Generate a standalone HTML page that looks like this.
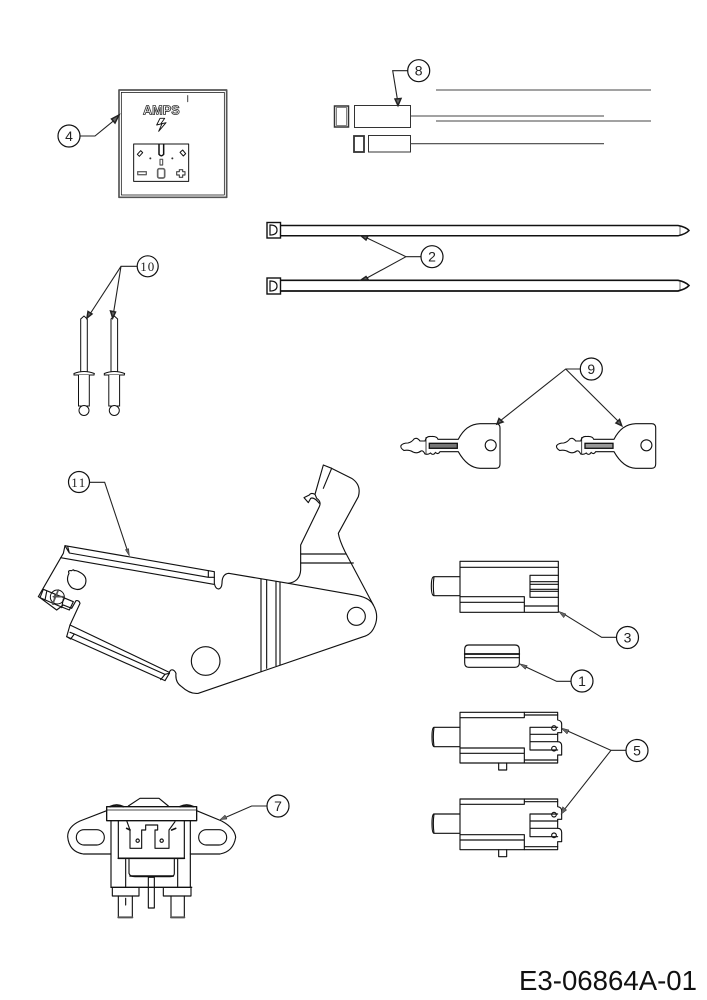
<!DOCTYPE html>
<html><head><meta charset="utf-8"><style>
html,body{margin:0;padding:0;background:#fff}
svg{display:block}
text{font-family:"Liberation Sans",sans-serif;fill:#222}
.z{fill:none;stroke:#111;stroke-width:3.4;stroke-linejoin:round;stroke-linecap:round}
.h{fill:#666;stroke:#222;stroke-width:1.5}
.l{fill:none;stroke:#222;stroke-width:1.1}
.c{fill:#fff;stroke:#111;stroke-width:1.2}
.lb{font-size:14px;text-anchor:middle}
</style></head><body>
<svg width="707" height="1000" viewBox="0 0 707 1000" xmlns="http://www.w3.org/2000/svg">
<rect width="707" height="1000" fill="#fff"/>

<!-- 4 -->
<g transform="translate(40,60) scale(.33333)">
<rect class="z" x="237" y="90" width="323" height="322" style="stroke-width:5;stroke:#555"/>
<rect class="z" x="244" y="97" width="309" height="308" style="stroke-width:2.2"/>
<path class="z" d="M443 107V125" style="stroke:#555"/>
<text x="364" y="163" style="font-size:38px;font-weight:bold;text-anchor:middle;fill:#fff;stroke:#333;stroke-width:2.5" textLength="110">AMPS</text>
<path class="z" d="M360 175L350 195L366 191L356 214L378 188L362 192L374 175Z" style="stroke-width:2.8"/>
<rect class="z" x="281" y="252" width="165" height="112" style="stroke-width:3"/>
<path class="z" d="M357 254V283Q364 292 371 283V254" style="stroke-width:4.500"/>
<rect class="z" x="360" y="298" width="8" height="17" style="stroke:#555"/>
<path class="z" d="M292 283L302 272L308 278L298 289Z M420 277L428 270L437 281L430 288Z" style="stroke-width:3"/>
<circle cx="331" cy="295" r="3" fill="#333"/><circle cx="397" cy="295" r="3" fill="#333"/>
<rect class="z" x="293" y="335" width="26" height="9" style="stroke:#666;stroke-width:4"/>
<rect class="z" x="353" y="326" width="21" height="28" rx="5" style="stroke:#666;stroke-width:5"/>
<path class="z" d="M418 329h10v6h7v10h-7v7h-10v-7h-8v-10h8z" style="stroke-width:3.400;stroke:#444"/>
</g>
<path class="l" d="M80 136H95L117 118"/><path class="h" d="M119 115L111.500 119L115 123Z"/>
<circle class="c" cx="69" cy="136" r="11"/><text class="lb" x="69" y="141">4</text>

<!-- 8 -->
<g fill="#fff" stroke="#333">
<rect x="334.500" y="106" width="14" height="21" stroke-width="1.500"/>
<rect x="336.500" y="107.500" width="10" height="18" stroke-width=".6"/>
<rect x="354.500" y="105.500" width="56" height="22" stroke-width="1"/>
<rect x="354" y="136" width="10" height="16" stroke-width="1.800"/>
<rect x="368.500" y="135.500" width="42" height="16.500" stroke-width="1"/>
</g>
<path d="M436 90H651M410.500 116H604M436 121H651M410.500 143.700H604" stroke="#444" stroke-width="1.100" fill="none"/>
<path class="l" d="M408 70.700H392.700L397.500 100"/><path class="h" d="M398 105.500L395 99L401 98.500Z"/>
<circle class="c" cx="418.700" cy="70.700" r="11"/><text class="lb" x="418.700" y="75.500">8</text>

<!-- 2 straps -->
<g fill="none" stroke="#111">
<rect x="267" y="222.500" width="13.500" height="15.500" stroke-width="1.400"/>
<path d="M270 225V235Q277 235 277 230Q277 225 270 225Z" stroke-width="1.200"/>
<path d="M280.500 225.500H678Q686 227 689 230.500Q686 234 678 235.800H280.500" stroke-width="1.500"/>
<path d="M680 226V235.500" stroke-width=".6"/>
<rect x="267" y="278" width="13.500" height="16" stroke-width="1.400"/>
<path d="M270 281V291Q277 291 277 286Q277 281 270 281Z" stroke-width="1.200"/>
<path d="M280.500 280.300H678Q686 282 689 285.500Q686 289 678 291H280.500" stroke-width="1.700"/>
<path d="M680 281V290.500" stroke-width=".6"/>
</g>
<path class="l" d="M421 256.700H406L366 237.500M406 256.700L366 278.500"/>
<path class="h" d="M361 235.800L368 236L366 240Z"/><path class="h" d="M361 280L366 276.500L368.500 280Z"/>
<circle class="c" cx="432" cy="256.700" r="11"/><text class="lb" x="432" y="261.500">2</text>

<!-- 10 rivets -->
<g fill="#fff" stroke="#111" stroke-width="1">
<g>
<path d="M80.700 372V319L84 316L87.300 319V372"/>
<path d="M74 373.500Q84 369.500 94.300 373.500L94 375H74Z"/>
<path d="M78.500 375V406H89.300V375"/>
<circle cx="84" cy="410.500" r="5"/>
</g>
<g transform="translate(30.300,0)">
<path d="M80.700 372V319L84 316L87.300 319V372"/>
<path d="M74 373.500Q84 369.500 94.300 373.500L94 375H74Z"/>
<path d="M78.500 375V406H89.300V375"/>
<circle cx="84" cy="410.500" r="5"/>
</g>
</g>
<path class="l" d="M137 266.300H121L90 314M121 266.300L113.500 313"/>
<path class="h" d="M87 318L88 311.500L92 314Z"/><path class="h" d="M112.700 318L110.500 311L115.500 312Z"/>
<circle class="c" cx="147.700" cy="266.300" r="10.500"/>
<text x="147.700" y="271" style="font-family:'Liberation Serif',serif;font-size:13px;text-anchor:middle" letter-spacing="1">10</text>

<!-- 9 keys -->
<g fill="#fff" stroke="#111" stroke-width="1.100">
<g>
<path d="M458.300 439.300C463 430 470 424 480 423.700H496Q500 423.700 500 428V464Q500 468.300 496 468.300H480C470 468 463 460 458.300 451.700H440Q438 455 435.500 452.500Q433 456 430.500 453Q428 455 425 454Q423 450 421 451Q417 454 413 452Q409 449.500 404 450.500Q400 448 401 445.500Q403 443 408 443Q412 442 414 439Q417 437 420 441H425Q426 436 431 436.500Q437 436 438 439.300Z"/>
<path d="M426 437V454" stroke-width=".8"/>
<rect x="429.300" y="443.300" width="28" height="5" fill="#777" stroke-width="1.300"/>
<circle cx="490.700" cy="445.300" r="5.500"/>
</g>
<g transform="translate(155.700,0)">
<path d="M458.300 439.300C463 430 470 424 480 423.700H496Q500 423.700 500 428V464Q500 468.300 496 468.300H480C470 468 463 460 458.300 451.700H440Q438 455 435.500 452.500Q433 456 430.500 453Q428 455 425 454Q423 450 421 451Q417 454 413 452Q409 449.500 404 450.500Q400 448 401 445.500Q403 443 408 443Q412 442 414 439Q417 437 420 441H425Q426 436 431 436.500Q437 436 438 439.300Z"/>
<path d="M426 437V454" stroke-width=".8"/>
<rect x="429.300" y="443.300" width="28" height="5" fill="#999" stroke-width="1.300"/>
<circle cx="490.700" cy="445.300" r="5.500"/>
</g>
</g>
<path class="l" d="M580 369H565.700L500 421M565.700 369L619 422"/>
<path class="h" d="M497 424L499 418.500L503 422Z"/><path class="h" d="M621.700 425.700L616 423L619.500 419.500Z"/>
<circle class="c" cx="591.300" cy="369" r="11"/><text class="lb" x="591.300" y="374">9</text>

<!-- 11 bracket -->
<g transform="translate(30,455) scale(.33333)">
<path class="z" d="M105 272L553 350V385Q556 402 566 402Q575 400 576 385Q576 357 596 355L775 385L985 422Q1020 430 1030 450Q1050 485 1030 522Q1020 540 1000 545L505 715Q480 718 455 695Q435 682 438 655Q432 642 423 645Q417 650 418 655L405 677L110 545L120 510L150 445Q147 435 138 437L125 460L100 450L80 465L30 428L25 425L100 295Z"/>
<path class="z" d="M775 385Q810 380 812 345V270L868 155Q875 140 860 130L855 118L880 30L905 40L965 70Q995 90 985 125L925 235Q928 255 945 290Q985 365 1030 450"/>
<path class="z" d="M855 118Q843 112 838 120L822 128L835 143L842 130Q852 125 868 145"/>
<path class="z" d="M905 40L880 100"/>
<path class="z" d="M812 297H947M812 324H970"/>
<path class="z" d="M693 372V650M710 375V640M738 380V632M750 382V630"/>
<path class="z" d="M118 294L535 367M92 308L551 388M105 272L118 294L113 274M535 347V367H553"/>
<path class="z" d="M120 510L418 652M120 532L133 537L122 552L110 545M133 537L405 658L392 674M405 658L418 655"/>
<path class="z" d="M125 347Q112 345 117 355Q105 378 125 398Q150 412 165 390Q175 365 150 352Q138 345 132 347Q132 342 125 347Z"/>
<circle class="z" cx="979" cy="484" r="27"/>
<circle class="z" cx="527" cy="618" r="43"/>
<path class="z" d="M30 428L40 403L130 440L118 465L80 450L30 428Z"/>
<path class="z" d="M50 410L45 435M75 420L70 448M100 432L95 458"/>
<circle class="z" cx="82" cy="426" r="21" style="stroke-width:3"/>
<path class="z" d="M85 405L68 447M100 425H70" style="stroke:#555;stroke-width:5"/>
<path class="l" style="stroke-width:3.200" d="M178 82H224L295 295"/>
<path class="h" d="M298 303L286 284L296 281Z"/>
</g>
<circle class="c" cx="79" cy="482" r="10.500"/>
<text x="79" y="487" style="font-family:'Liberation Serif',serif;font-size:13px;text-anchor:middle" letter-spacing="1.500">11</text>

<!-- 3 -->
<g transform="translate(420,550) scale(.33333)">
<path class="z" d="M120 34H415V187H120Z M120 52H415M120 140H313V187M120 157H313M313 168H415"/>
<path class="z" d="M330 76H415M330 76V142H415M330 95H415M330 103H415M330 118H415M330 124H415"/>
<path class="z" d="M120 80H42Q34 80 34 108Q34 137 42 137H120M42 80Q38 108 42 137"/>
<path class="l" style="stroke-width:3.200" d="M590 262H545L425 188"/>
<path class="h" d="M416 184L438 192L431 203Z"/>
<!-- 1 -->
<path class="z" d="M146 285H285Q298 285 298 298V338Q298 352 285 352H146Q134 352 134 338V298Q134 285 146 285Z"/>
<path class="z" d="M134 312H298" style="stroke-width:5"/>
<path class="z" d="M134 323H298"/>
<path class="l" style="stroke-width:3.200" d="M455 394H410L305 345"/>
<path class="h" d="M298 341L322 347L316 358Z"/>
</g>
<circle class="c" cx="627.500" cy="637.500" r="11"/><text class="lb" x="627.500" y="642.500">3</text>
<circle class="c" cx="582" cy="681" r="11"/><text class="lb" x="582" y="686">1</text>

<!-- 5 -->
<g transform="translate(420,700) scale(.33333)">
<g>
<path class="z" d="M120 37H413V60Q425 62 425 72V98H413V125Q425 125 425 138V165H413V189H120Z"/>
<path class="z" d="M120 53H313V37M313 45H413M120 144H313V189M120 160H313M313 180H413"/>
<path class="z" d="M413 82H330V150H413M330 103H413M330 125H413"/>
<circle class="z" cx="402" cy="84" r="7"/><circle class="z" cx="402" cy="146" r="7"/>
<path class="z" d="M120 82H42Q36 82 36 110Q36 140 42 140H120M42 82Q38 110 42 140"/>
<path class="z" d="M236 189V210H260V189"/>
</g>
<g transform="translate(0,260)">
<path class="z" d="M120 37H413V60Q425 62 425 72V98H413V125Q425 125 425 138V165H413V189H120Z"/>
<path class="z" d="M120 53H313V37M313 45H413M120 144H313V189M120 160H313M313 180H413"/>
<path class="z" d="M413 82H330V150H413M330 103H413M330 125H413"/>
<circle class="z" cx="402" cy="84" r="7"/><circle class="z" cx="402" cy="146" r="7"/>
<path class="z" d="M120 82H42Q36 82 36 110Q36 140 42 140H120M42 82Q38 110 42 140"/>
<path class="z" d="M236 189V210H260V189"/>
</g>
<path class="l" style="stroke-width:3.200" d="M620 151H573L432 88M573 151L428 335"/>
<path class="h" d="M423 84L447 90L441 102Z"/><path class="h" d="M423 343L428 320L440 330Z"/>
</g>
<circle class="c" cx="637" cy="750.500" r="11"/><text class="lb" x="637" y="755.500">5</text>

<!-- 7 -->
<g transform="translate(55,780) scale(.33333)">
<path class="z" d="M155 92L75 123Q38 140 38 170Q42 215 85 222H168M425 92L500 123Q540 145 542 172Q535 215 495 222H406"/>
<rect class="z" x="64" y="149" width="84" height="46" rx="23"/>
<rect class="z" x="431" y="149" width="84" height="46" rx="23"/>
<path class="z" d="M220 78L255 55H312L340 78"/>
<rect class="z" x="155" y="80" width="270" height="42" style="stroke-width:4"/>
<path class="z" d="M155 90H425" style="stroke-width:2.500"/>
<path class="z" d="M165 80Q185 70 205 80M375 80Q395 70 415 80" style="stroke-width:5"/>
<path class="z" d="M168 122V322M190 122V235H388V122M406 122V322" style="stroke-width:3.500"/>
<path class="z" d="M190 235H388" style="stroke-width:5"/>
<path class="z" d="M215 122L225 150V205H260V150H272V135H308V150H300V205H342V150L360 125"/>
<path class="z" d="M215 145L225 150M350 150L362 145" style="stroke-width:5"/>
<circle class="z" cx="248" cy="182" r="5"/><circle class="z" cx="320" cy="182" r="5"/>
<path class="z" d="M212 238V320M222 238V280Q225 290 240 290H345Q358 290 358 280V238M368 238V320"/>
<path class="z" d="M225 288H355" style="stroke-width:4.500"/>
<path class="z" d="M168 322H410" style="stroke-width:4"/>
<path class="z" d="M172 325V348H252V325M325 325V348H408V325"/>
<path class="z" d="M190 348V412H232V348M348 348V412H388V348M212 355V375"/>
<path class="z" d="M190 412H232M348 412H388" style="stroke-width:6;stroke:#555"/>
<rect class="z" x="280" y="292" width="18" height="92"/>
<path class="l" style="stroke-width:3.200" d="M638 78H590L505 115"/>
<path class="h" d="M495 119L510 105L516 117Z"/>
</g>
<circle class="c" cx="278" cy="806" r="11"/><text class="lb" x="278" y="811">7</text>

<text x="519" y="990" style="font-size:27.600px;fill:#111" textLength="178" lengthAdjust="spacingAndGlyphs">E3-06864A-01</text>
</svg>
</body></html>
